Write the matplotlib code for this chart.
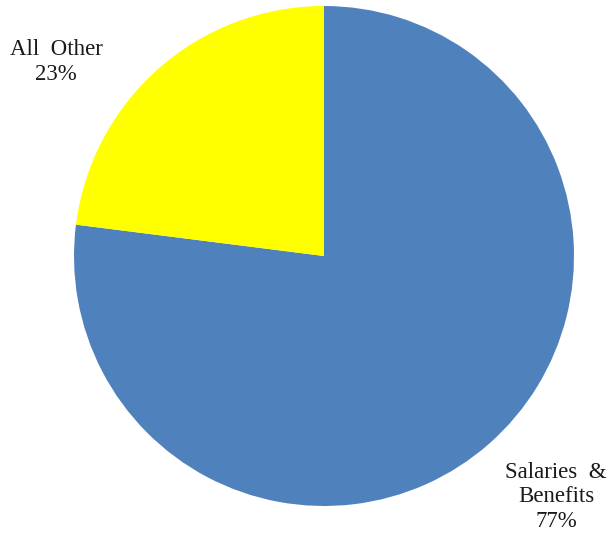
import matplotlib
matplotlib.use("Agg")
import matplotlib.pyplot as plt

categories = ["Salaries  &\nBenefits", "All  Other"]
shares = [77, 23]
colors = ["#4F81BD", "#FFFF00"]

plt.rcParams['font.family'] = ['Liberation Serif', 'DejaVu Serif']

W, H = 608, 538
fig = plt.figure(figsize=(W / 100, H / 100), dpi=100)
cx, cy, r = 324, 256, 250
ax = fig.add_axes([(cx - r) / W, (H - cy - r) / H, 2 * r / W, 2 * r / H])
ax.pie(shares, colors=colors, startangle=90, counterclock=False,
       wedgeprops=dict(linewidth=0), radius=1.0)
ax.set_xlim(-1, 1)
ax.set_ylim(-1, 1)
ax.set_aspect('equal')
ax.axis('off')

label_pos = [(556, 497), (56, 62)]
for cat, val, (lx, ly) in zip(categories, shares, label_pos):
    fig.text(lx / W, 1 - ly / H, f"{cat}\n{val}%", ha='center', va='center',
             fontsize=16.5, linespacing=1.22, color='#1a1a1a')

fig.savefig("out.png", dpi=100)
